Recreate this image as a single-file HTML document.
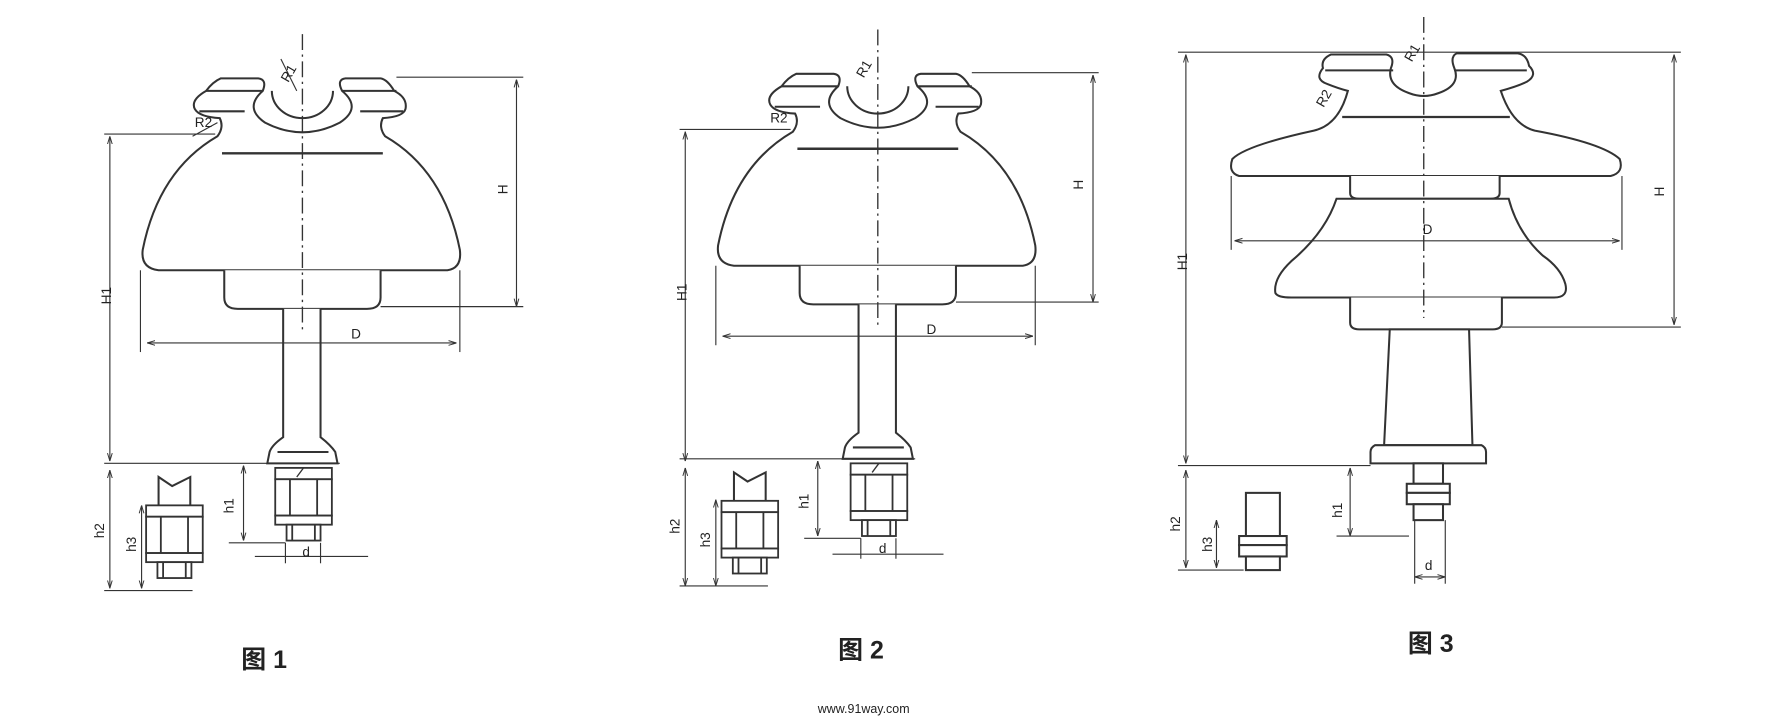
<!DOCTYPE html>
<html><head><meta charset="utf-8"><style>
html,body{margin:0;padding:0;background:#fff;}
svg{display:block}
text{font-family:"Liberation Sans","Noto Sans CJK SC",sans-serif;fill:#222}
</style></head><body>
<svg width="1776" height="720" viewBox="0 0 1568 634" preserveAspectRatio="none" xmlns="http://www.w3.org/2000/svg">
<rect width="1568" height="634" fill="#fff"/>
<defs>
<marker id="a" viewBox="0 0 10 10" refX="10" refY="5" markerWidth="7" markerHeight="7" orient="auto-start-reverse"><path d="M0,2 L10,5 L0,8" fill="none" stroke="#333" stroke-width="1.2"/></marker>
<g id="nut" fill="#fff" stroke="#333" stroke-width="1.6">
<rect x="-25" y="0" width="50" height="10"/>
<rect x="-25" y="10" width="50" height="32"/>
<line x1="-12" y1="10" x2="-12" y2="42"/><line x1="12" y1="10" x2="12" y2="42"/>
<rect x="-25" y="42" width="50" height="8"/>
<rect x="-15" y="50" width="30" height="14"/>
<line x1="-10" y1="50" x2="-10" y2="64"/><line x1="10" y1="50" x2="10" y2="64"/>
</g>
<g id="fig" fill="none" stroke="#333" stroke-width="1.8">
<path d="M232,80 Q236,70 228,69 L195,69 Q188,72 182,80 Q168,88 172,96 Q176,103 194,104 Q198,112 192,120 Q140,150 126,220 Q124,236 140,238 L395,238 Q408,236 406,220 Q392,150 340,120 Q334,112 338,104 Q356,103 358,96 Q360,86 348,80 Q342,70 336,69 L305,69 Q297,70 302,80 Q320,95 300,108 Q267,125 234,108 Q215,95 232,80 Z" fill="#fff"/>
<path d="M240,80 A27,24 0 0 0 294,80"/>
<line x1="182" y1="80" x2="232" y2="80"/><line x1="302" y1="80" x2="350" y2="80"/>
<line x1="176" y1="98" x2="216" y2="98"/><line x1="318" y1="98" x2="356" y2="98"/>
<line x1="196" y1="135" x2="338" y2="135" stroke-width="2.2"/>
<path d="M198,238 L198,262 Q198,272 210,272 L324,272 Q336,272 336,262 L336,238" fill="#fff"/>
<path d="M250,272 L250,385 Q240,392 238,398 L236,408 L298,408 L296,398 Q292,392 283,385 L283,272" fill="#fff"/>
<line x1="245" y1="398" x2="290" y2="398"/>
<line x1="267" y1="30" x2="267" y2="290" stroke-dasharray="14,4,2,4" stroke-width="1.2"/>
<use href="#nut" x="268" y="412"/>
<line x1="268" y1="412" x2="262" y2="420" stroke-width="1.2"/>
<!-- small nut -->
<path d="M140,445 L140,420 L152,428 L168,420 L168,445" fill="#fff"/>
<use href="#nut" x="154" y="445" transform="scale(1)"/>
</g>
</defs>

<!-- FIGURE 1 -->
<use href="#fig"/>
<g fill="none" stroke="#333" stroke-width="1" marker-start="url(#a)" marker-end="url(#a)">
<line x1="456" y1="70" x2="456" y2="270"/>
<line x1="97" y1="120" x2="97" y2="406"/>
<line x1="130" y1="302" x2="403" y2="302"/>
<line x1="215" y1="410" x2="215" y2="476"/>
<line x1="97" y1="414" x2="97" y2="518"/>
<line x1="125" y1="445" x2="125" y2="518"/>
</g>
<g stroke="#333" stroke-width="1">
<line x1="350" y1="68" x2="462" y2="68"/><line x1="336" y1="270" x2="462" y2="270"/>
<line x1="92" y1="118" x2="190" y2="118"/><line x1="92" y1="408" x2="300" y2="408"/>
<line x1="124" y1="238" x2="124" y2="310"/><line x1="406" y1="238" x2="406" y2="310"/>
<line x1="202" y1="478" x2="252" y2="478"/>
<line x1="225" y1="490" x2="325" y2="490"/><line x1="252" y1="478" x2="252" y2="496"/><line x1="283" y1="478" x2="283" y2="496"/>
<line x1="92" y1="520" x2="170" y2="520"/>
<line x1="248" y1="52" x2="262" y2="80"/><line x1="170" y1="120" x2="192" y2="108"/>
</g>
<g font-size="12">
<text x="439" y="168" transform="rotate(-90 445 165)">H</text>
<text x="86" y="268" transform="rotate(-90 92 262)">H1</text>
<text x="310" y="298">D</text>
<text x="196" y="450" transform="rotate(-90 202 446)">h1</text>
<text x="82" y="472" transform="rotate(-90 88 468)">h2</text>
<text x="110" y="484" transform="rotate(-90 116 480)">h3</text>
<text x="267" y="490">d</text>
<text x="248" y="70" transform="rotate(-60 254 66)">R1</text>
<text x="172" y="112">R2</text>
</g>
<text x="213" y="588" font-size="22" font-weight="bold">图 1</text>

<!-- FIGURE 2 -->
<g transform="translate(508,-4)"><use href="#fig"/></g>
<g fill="none" stroke="#333" stroke-width="1" marker-start="url(#a)" marker-end="url(#a)">
<line x1="965" y1="66" x2="965" y2="266"/>
<line x1="605" y1="116" x2="605" y2="406"/>
<line x1="638" y1="296" x2="912" y2="296"/>
<line x1="722" y1="406" x2="722" y2="472"/>
<line x1="605" y1="412" x2="605" y2="516"/>
<line x1="632" y1="440" x2="632" y2="516"/>
</g>
<g stroke="#333" stroke-width="1">
<line x1="858" y1="64" x2="970" y2="64"/><line x1="844" y1="266" x2="970" y2="266"/>
<line x1="600" y1="114" x2="698" y2="114"/><line x1="600" y1="404" x2="808" y2="404"/>
<line x1="632" y1="234" x2="632" y2="304"/><line x1="914" y1="234" x2="914" y2="304"/>
<line x1="710" y1="474" x2="760" y2="474"/>
<line x1="735" y1="488" x2="833" y2="488"/><line x1="760" y1="474" x2="760" y2="492"/><line x1="791" y1="474" x2="791" y2="492"/>
<line x1="600" y1="516" x2="678" y2="516"/>
</g>
<g font-size="12">
<text x="947" y="164" transform="rotate(-90 953 161)">H</text>
<text x="594" y="265" transform="rotate(-90 600 259)">H1</text>
<text x="818" y="294">D</text>
<text x="704" y="446" transform="rotate(-90 710 442)">h1</text>
<text x="590" y="468" transform="rotate(-90 596 464)">h2</text>
<text x="617" y="480" transform="rotate(-90 623 476)">h3</text>
<text x="776" y="487">d</text>
<text x="756" y="66" transform="rotate(-60 762 62)">R1</text>
<text x="680" y="108">R2</text>
</g>
<text x="740" y="580" font-size="22" font-weight="bold">图 2</text>

<!-- FIGURE 3 -->
<g fill="#fff" stroke="#333" stroke-width="1.8">
<path d="M1228,60 Q1232,50 1224,48 L1175,48 Q1166,52 1168,60 Q1160,70 1172,74 Q1182,78 1190,80 Q1182,110 1160,115 Q1100,128 1088,140 Q1084,152 1094,155 L1422,155 Q1434,152 1430,140 Q1415,126 1355,115 Q1335,110 1325,80 Q1340,76 1348,72 Q1358,66 1350,58 Q1348,48 1340,47 L1286,47 Q1280,50 1284,60 Q1290,75 1270,82 Q1257,87 1244,82 Q1224,75 1228,60 Z"/>
<line x1="1170" y1="62" x2="1230" y2="62"/><line x1="1284" y1="62" x2="1348" y2="62"/>
<line x1="1185" y1="103" x2="1333" y2="103" stroke-width="2"/>
<path d="M1192,155 L1192,170 Q1192,175 1200,175 L1316,175 Q1324,175 1324,170 L1324,155"/>
<path d="M1180,175 Q1170,205 1140,230 Q1124,245 1126,258 Q1128,262 1140,262 L1372,262 Q1385,262 1382,250 Q1378,236 1362,225 Q1340,205 1332,175 Z"/>
<path d="M1192,262 L1192,284 Q1192,290 1200,290 L1318,290 Q1326,290 1326,284 L1326,262"/>
<path d="M1227,290 L1222,392 L1300,392 L1297,290 Z"/>
<path d="M1214,392 Q1210,394 1210,398 L1210,408 L1312,408 L1312,398 Q1312,394 1308,392 Z"/>
<rect x="1248" y="408" width="26" height="18"/>
<rect x="1242" y="426" width="38" height="8"/><rect x="1242" y="434" width="38" height="10"/>
<rect x="1248" y="444" width="26" height="14"/>
<!-- small -->
<rect x="1100" y="434" width="30" height="38"/>
<rect x="1094" y="472" width="42" height="8"/><rect x="1094" y="480" width="42" height="10"/>
<rect x="1100" y="490" width="30" height="12"/>
</g>
<line x1="1257" y1="15" x2="1257" y2="280" stroke="#333" stroke-width="1.2" stroke-dasharray="14,4,2,4"/>
<g fill="none" stroke="#333" stroke-width="1" marker-start="url(#a)" marker-end="url(#a)">
<line x1="1478" y1="48" x2="1478" y2="286"/>
<line x1="1047" y1="48" x2="1047" y2="408"/>
<line x1="1090" y1="212" x2="1430" y2="212"/>
<line x1="1192" y1="412" x2="1192" y2="472"/>
<line x1="1047" y1="414" x2="1047" y2="500"/>
<line x1="1074" y1="458" x2="1074" y2="500"/>
<line x1="1249" y1="508" x2="1276" y2="508"/>
</g>
<g stroke="#333" stroke-width="1">
<line x1="1040" y1="46" x2="1484" y2="46"/><line x1="1326" y1="288" x2="1484" y2="288"/>
<line x1="1040" y1="410" x2="1210" y2="410"/>
<line x1="1087" y1="155" x2="1087" y2="220"/><line x1="1432" y1="155" x2="1432" y2="220"/>
<line x1="1180" y1="472" x2="1244" y2="472"/>
<line x1="1249" y1="458" x2="1249" y2="514"/><line x1="1276" y1="458" x2="1276" y2="514"/>
<line x1="1040" y1="502" x2="1098" y2="502"/>
</g>
<g font-size="12">
<text x="1460" y="170" transform="rotate(-90 1466 167)">H</text>
<text x="1036" y="238" transform="rotate(-90 1042 232)">H1</text>
<text x="1256" y="206">D</text>
<text x="1175" y="454" transform="rotate(-90 1181 450)">h1</text>
<text x="1032" y="466" transform="rotate(-90 1038 462)">h2</text>
<text x="1060" y="484" transform="rotate(-90 1066 480)">h3</text>
<text x="1258" y="502">d</text>
<text x="1240" y="52" transform="rotate(-60 1246 48)">R1</text>
<text x="1162" y="92" transform="rotate(-60 1168 88)">R2</text>
</g>
<text x="1243" y="574" font-size="22" font-weight="bold">图 3</text>

<text x="722" y="628" font-size="11" fill="#666">www.91way.com</text>
</svg>
</body></html>
